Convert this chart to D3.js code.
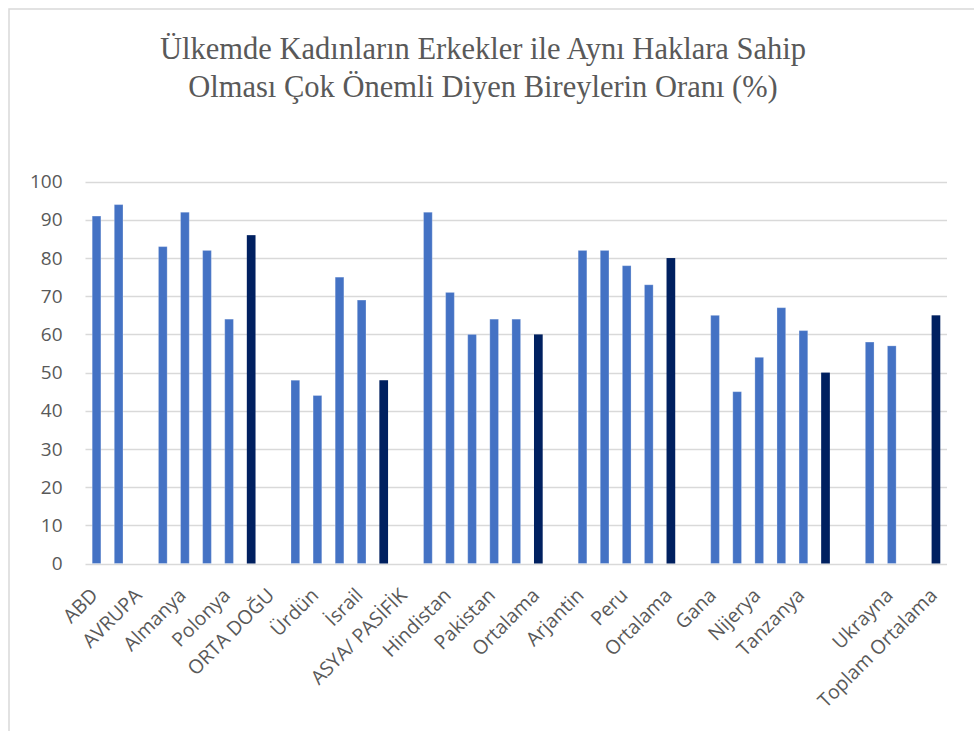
<!DOCTYPE html>
<html>
<head>
<meta charset="utf-8">
<script src="https://cdn.jsdelivr.net/npm/d3@7"></script>
<style>
body { margin: 0; background: #fff; }
</style>
</head>
<body>
<svg class="chart" width="974" height="731"></svg>
<script>
// categories (only every other label is shown on the axis, as in the original)
var categories = ["ABD", "Kanada", "AVRUPA", "İngiltere", "Almanya", "Fransa", "Polonya", "Ortalama",
    "ORTA DOĞU", "Filistin", "Ürdün", "Lübnan", "İsrail", "Ortalama",
    "ASYA/ PASİFİK", "Avustralya", "Hindistan", "Endonezya", "Pakistan", "Filipinler", "Ortalama",
    "LATİN AMERİKA", "Arjantin", "Brezilya", "Peru", "Venezuela", "Ortalama",
    "AFRİKA", "Gana", "Kenya", "Nijerya", "Senegal", "Tanzanya", "Ortalama",
    "", "Rusya", "Ukrayna", "", "Toplam Ortalama"];
var values = [91, 94, null, 83, 92, 82, 64, 86,
    null, 48, 44, 75, 69, 48,
    null, 92, 71, 60, 64, 64, 60,
    null, 82, 82, 78, 73, 80,
    null, 65, 45, 54, 67, 61, 50,
    null, 58, 57, null, 65];
var averageIdx = [7, 13, 20, 26, 33, 38];
var yTicks = [0, 10, 20, 30, 40, 50, 60, 70, 80, 90, 100];
var titleLines = ["Ülkemde Kadınların Erkekler ile Aynı Haklara Sahip",
    "Olması Çok Önemli Diyen Bireylerin Oranı (%)"];

var svg = d3.select(".chart");
var margin = {left: 85.5, right: 27, top: 181.7, bottom: 167.5};
var width = 974, height = 731;

// chart frame
svg.append("rect")
    .attr("x", 9).attr("y", 9)
    .attr("width", 1000).attr("height", 1000)
    .style("fill", "none")
    .style("stroke", "#d9d9d9")
    .style("stroke-width", 1.5);

svg.selectAll("text.title")
    .data(titleLines)
    .enter()
    .append("text")
    .attr("class", "title")
    .attr("x", 483)
    .attr("y", function (d, i) { return 59 + i * 38; })
    .attr("text-anchor", "middle")
    .style("font-family", "'Liberation Serif', 'Times New Roman', serif")
    .style("font-size", "30.5px")
    .style("fill", "#595959")
    .text(String);

var idx = d3.range(categories.length);
var x = d3.scaleBand()
    .domain(idx)
    .range([margin.left, width - margin.right])
    .paddingInner(0.606)
    .paddingOuter(0.303);
var y = d3.scaleLinear()
    .domain([0, 100])
    .range([height - margin.bottom, margin.top]);

// gridlines
svg.append("g")
    .selectAll("line")
    .data(yTicks)
    .enter()
    .append("line")
    .attr("x1", margin.left)
    .attr("x2", width - margin.right)
    .attr("y1", function (d) { return Math.round(y(d)) + 0.5; })
    .attr("y2", function (d) { return Math.round(y(d)) + 0.5; })
    .style("stroke", "#d9d9d9")
    .style("stroke-width", 1.3);

// y axis labels
var yAxis = svg.append("g")
    .attr("transform", "translate(" + (margin.left - 23) + ",0)")
    .call(d3.axisLeft(y).tickValues(yTicks).tickSize(0).tickPadding(0));
yAxis.select(".domain").remove();
yAxis.selectAll("text")
    .style("font-family", "'Open Sans', sans-serif")
    .style("font-size", "19px")
    .style("fill", "#595959");

// bars
svg.append("g")
    .selectAll("rect")
    .data(idx.filter(function (i) { return values[i] != null; }))
    .enter()
    .append("rect")
    .attr("x", function (i) { return x(i); })
    .attr("width", x.bandwidth())
    .attr("y", function (i) { return y(values[i]); })
    .attr("height", function (i) { return y(0) - y(values[i]); })
    .style("fill", function (i) {
        return averageIdx.indexOf(i) >= 0 ? '#002060' : '#4472c4';
    })
    .style("stroke", function (i) {
        return averageIdx.indexOf(i) >= 0 ? 'none' : 'rgba(255,255,255,0.25)';
    })
    .style("stroke-width", 1);

// x axis labels, every second category
var xAxis = svg.append("g")
    .attr("transform", "translate(0," + (y(0) + 4) + ")")
    .call(d3.axisBottom(x)
        .tickValues(idx.filter(function (i) { return i % 2 === 0; }))
        .tickFormat(function (i) { return categories[i]; })
        .tickSize(0));
xAxis.select(".domain").remove();
xAxis.selectAll("text")
    .attr("text-anchor", "end")
    .attr("dy", null)
    .attr("y", 0)
    .attr("transform", "translate(" + (x.bandwidth() / 2 - 2) + ",29) rotate(-45)")
    .style("font-family", "'Open Sans', sans-serif")
    .style("font-size", "19.5px")
    .style("fill", "#595959");
</script>
</body>
</html>
